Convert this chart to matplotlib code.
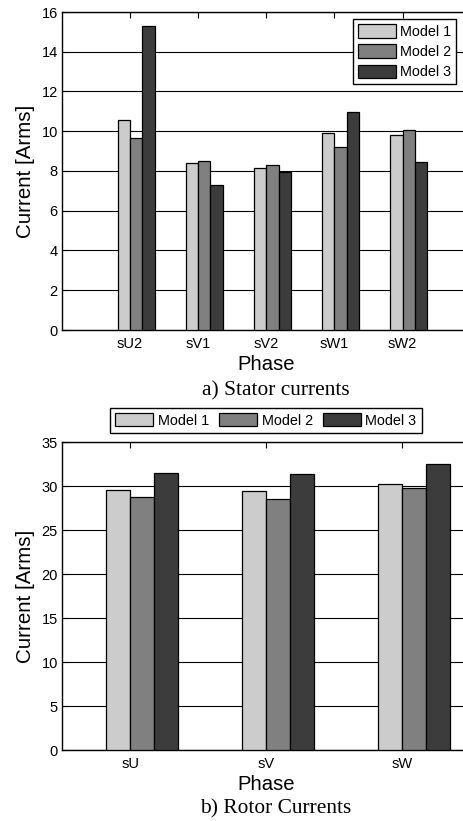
import matplotlib
matplotlib.use("Agg")
import matplotlib.pyplot as plt
import numpy as np

plt.rcParams['font.family'] = ['Liberation Sans', 'DejaVu Sans']

models = ['Model 1', 'Model 2', 'Model 3']
cols = ['#cccccc', '#808080', '#3c3c3c']

# stator phases and currents (Arms) for each model
stator_phases = ['sU2', 'sV1', 'sV2', 'sW1', 'sW2']
stator_m1 = [10.55, 8.42, 8.14, 9.93, 9.83]
stator_m2 = [9.65, 8.52, 8.29, 9.23, 10.07]
stator_m3 = [15.28, 7.28, 7.95, 10.96, 8.46]

# rotor phases and currents (Arms)
rotor_phases = ['sU', 'sV', 'sW']
rotor_m1 = [29.58, 29.47, 30.27]
rotor_m2 = [28.80, 28.48, 29.77]
rotor_m3 = [31.48, 31.33, 32.46]

W, H = 464, 821
fig = plt.figure(figsize=(W / 100, H / 100), dpi=100)


def px_axes(left, right, top, bottom):
    return fig.add_axes([left / W, 1 - bottom / H, (right - left) / W, (bottom - top) / H])


def bars(ax, phases, series, width):
    x = np.arange(1, len(phases) + 1)
    for i, (vals, c, name) in enumerate(zip(series, cols, models)):
        ax.bar(x + (i - 0.5) * width, vals, width, color=c, edgecolor='black',
               linewidth=0.9, label=name, zorder=3)
    ax.set_xticks(x)
    ax.set_xticklabels(phases)
    ax.yaxis.grid(True, color='black', linewidth=0.8, zorder=0)
    ax.set_axisbelow(True)
    ax.tick_params(axis='both', direction='in', top=True, right=False, labelsize=10.5,
                   length=4, width=0.8, pad=3)
    ax.tick_params(axis='x', bottom=False, pad=5)
    for s in ['left', 'bottom', 'top']:
        ax.spines[s].set_linewidth(1.0)
    ax.spines['right'].set_visible(False)
    ax.set_ylabel('Current [Arms]', fontsize=14.8, labelpad=5)
    ax.set_xlabel('Phase', fontsize=14.6, labelpad=3)


legend_style = dict(bbox_transform=fig.transFigure, fontsize=10.4, fancybox=False,
                    edgecolor='black', framealpha=1, borderaxespad=0,
                    handlelength=2.65, borderpad=0.35)

# a) stator
ax1 = px_axes(62, 470.6, 12, 330)
bars(ax1, stator_phases, [stator_m1, stator_m2, stator_m3], 0.18)
ax1.set_xlim(0, 6)
ax1.set_ylim(0, 16)
ax1.set_yticks(range(0, 17, 2))
ax1.legend(loc='upper left', bbox_to_anchor=(352.7 / W, 1 - 19 / H),
           handleheight=1.08, labelspacing=0.38, handletextpad=0.25, **legend_style)

# b) rotor
ax2 = px_axes(62, 470.5, 442, 750)
bars(ax2, rotor_phases, [rotor_m1, rotor_m2, rotor_m3], 0.176)
ax2.set_xlim(0.5, 3.5)
ax2.set_ylim(0, 35)
ax2.set_yticks(range(0, 36, 5))
ax2.legend(loc='upper left', bbox_to_anchor=(110 / W, 1 - 408.3 / H), ncol=3,
           handleheight=0.97, columnspacing=0.7, handletextpad=0.3, **legend_style)

fig.text(276 / W, 1 - 390.7 / H, 'a) Stator currents', ha='center', va='center',
         fontsize=15.4, family='Liberation Serif')
fig.text(276 / W, 1 - 809.3 / H, 'b) Rotor Currents', ha='center', va='center',
         fontsize=15.4, family='Liberation Serif')

fig.savefig('out.png', dpi=100)
